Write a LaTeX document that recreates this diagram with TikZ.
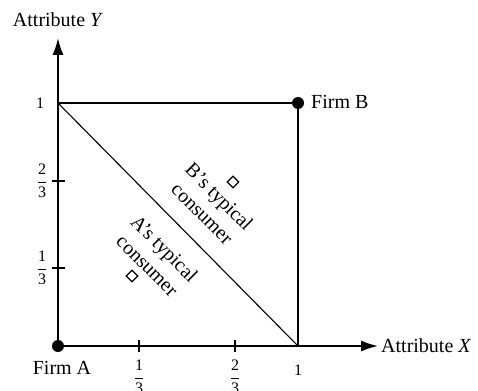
\documentclass[tikz,border=0pt]{standalone}
\usepackage{fontspec}
\setmainfont{Liberation Serif}
\usetikzlibrary{arrows.meta,shapes.geometric}
\newcommand{\myfrac}[2]{$\displaystyle\frac{\mbox{#1}}{\mbox{#2}}$}
\begin{document}
\begin{tikzpicture}[x=1pt,y=-1pt,
  lbl/.style={font=\fontsize{20}{22}\selectfont, inner sep=1pt},
  num/.style={font=\fontsize{16}{18}\selectfont, inner sep=1pt},
  axis/.style={line width=1.6pt,-{Latex[length=17pt,width=11pt]}},
  thin/.style={line width=1.1pt},
  dot/.style={circle,fill=black,inner sep=0pt,minimum size=12pt},
  dia/.style={diamond,draw,line width=1.3pt,inner sep=0pt,minimum size=12pt},
  rot/.style={font=\fontsize{20}{24}\selectfont, inner sep=1pt,rotate=-45,align=center}]
\useasboundingbox (0,0) rectangle (478,390);
\coordinate (O) at (58,346);
\coordinate (X1) at (298,346);
\coordinate (Y1) at (58,103);
\coordinate (XT) at (378,346);
\coordinate (YT) at (58,38);
\draw[axis] (O) -- (XT);
\draw[axis] (O) -- (YT);
\draw[thin] (Y1) -- (298,103) -- (X1);
\draw[thin] (Y1) -- (X1);
\node[dot] (A) at (O) {};
\node[dot] (B) at (298,103) {};
\node[dia] (da) at (132,276) {};
\node[dia] (db) at (233,182) {};
% ticks
\coordinate (t1) at (139,346);
\coordinate (t2) at (235,346);
\coordinate (s1) at (58,268);
\coordinate (s2) at (58,181);
\draw[thin] ([yshift=-6]t1) -- ([yshift=6]t1);
\draw[thin] ([yshift=-6]t2) -- ([yshift=6]t2);
\draw[thin] ([xshift=-6]s1) -- ([xshift=7]s1);
\draw[thin] ([xshift=-6]s2) -- ([xshift=7]s2);
% labels
\node[lbl] (ly) at (58,20) {Attribute \textit{Y}};
\node[lbl,anchor=west] (lx) at (380,346) {Attribute \textit{X}};
\node[lbl] (fa) at (62,368) {Firm A};
\node[lbl,anchor=west] (fb) at (310,102) {Firm B};
\node[num] (y1) at (40,103) {1};
\node[num] (y2) at (42,181) {\myfrac{2}{3}};
\node[num] (y3) at (42,268) {\myfrac{1}{3}};
\node[num] (x3) at (139,377) {\myfrac{1}{3}};
\node[num] (x2) at (235,377) {\myfrac{2}{3}};
\node[num] (x1) at (298,370) {1};
\node[rot] (tb) at (211,205) {B’s typical\\consumer};
\node[rot] (ta) at (156,257) {A’s typical\\consumer};
\end{tikzpicture}
\end{document}
